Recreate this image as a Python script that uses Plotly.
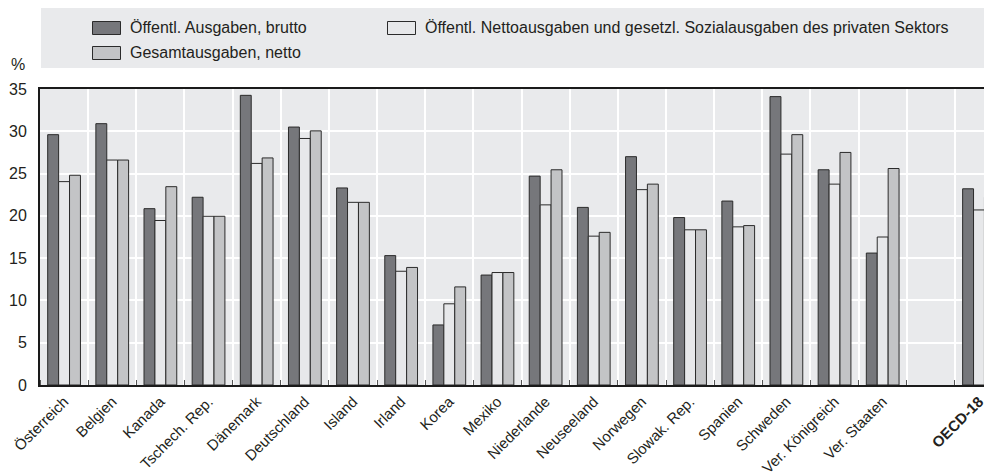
import plotly.graph_objects as go

categories = ["Österreich", "Belgien", "Kanada", "Tschech. Rep.", "Dänemark", "Deutschland",
              "Island", "Irland", "Korea", "Mexiko", "Niederlande", "Neuseeland", "Norwegen",
              "Slowak. Rep.", "Spanien", "Schweden", "Ver. Königreich", "Ver. Staaten", "", "OECD-18"]

brutto = [29.6, 30.9, 20.85, 22.2, 34.25, 30.5, 23.3, 15.3, 7.1, 13.0, 24.7, 21.0, 27.0,
          19.8, 21.75, 34.1, 25.45, 15.6, None, 23.2]
netto_privat = [24.05, 26.6, 19.45, 19.95, 26.2, 29.15, 21.6, 13.45, 9.6, 13.3, 21.3, 17.6, 23.1,
                18.35, 18.7, 27.3, 23.75, 17.5, None, 20.7]
gesamt_netto = [24.8, 26.6, 23.45, 19.95, 26.85, 30.05, 21.6, 13.9, 11.6, 13.3, 25.45, 18.05, 23.75,
                18.35, 18.85, 29.6, 27.5, 25.6, None, 22.2]

series_names = ["Öffentl. Ausgaben, brutto",
                "Öffentl. Nettoausgaben und gesetzl. Sozialausgaben des privaten Sektors",
                "Gesamtausgaben, netto"]
colors = ["#76777b", "#e7e8ea", "#c3c4c6"]

FONT = "Liberation Sans, Arial, sans-serif"
TXT = "#231f20"

xs = list(range(len(categories)))
ticktext = [("<b>%s</b>" % c if c == "OECD-18" else c) for c in categories]

fig = go.Figure()
for name, vals, col in zip(series_names, [brutto, netto_privat, gesamt_netto], colors):
    fig.add_trace(go.Bar(x=xs, y=vals, name=name, marker=dict(color=col, line=dict(color="#2b2b2b", width=1)),
                         showlegend=False))

# page body has an 8px margin: figure origin sits at screen (8, 8)
OFF = 8
FW, FH = 992 - OFF, 476 - OFF
L, T, W, H = 40 - OFF, 89 - OFF, 952, 296
def px(x):  # screen x -> paper
    return (x - OFF - L) / W
def py(y):  # screen y -> paper
    return (T + H - (y - OFF)) / H

shapes = [dict(type="rect", xref="paper", yref="paper", x0=px(41), x1=px(992), y0=py(68), y1=py(8),
               fillcolor="#e9eaec", line=dict(width=0), layer="below")]
legend_items = [(0, 92.5, 28), (1, 387.5, 28), (2, 92.5, 53)]
annotations = []
for idx, x0, yc in legend_items:
    shapes.append(dict(type="rect", xref="paper", yref="paper", x0=px(x0), x1=px(x0 + 28),
                       y0=py(yc + 6.5), y1=py(yc - 6.5), fillcolor=colors[idx],
                       line=dict(color="#2b2b2b", width=1)))
    annotations.append(dict(xref="paper", yref="paper", x=px(x0 + 35), y=py(yc), text=series_names[idx],
                            showarrow=False, xanchor="left", yanchor="middle",
                            font=dict(family=FONT, size=16, color=TXT)))
annotations.append(dict(xref="paper", yref="paper", x=px(18), y=py(64), text="%", showarrow=False,
                        xanchor="center", yanchor="middle", font=dict(family=FONT, size=16, color=TXT)))

fig.update_layout(
    template="none",
    width=FW, height=FH,
    margin=dict(l=L, r=FW - L - W, t=T, b=FH - T - H, autoexpand=False),
    paper_bgcolor="white", plot_bgcolor="#e9eaec",
    barmode="group", bargap=0.32, bargroupgap=0,
    font=dict(family=FONT, size=16, color=TXT),
    shapes=shapes, annotations=annotations,
    xaxis=dict(range=[-0.5, 19.27], tickmode="array", tickvals=xs, ticktext=ticktext,
               tickangle=-45, showgrid=False, ticks="", zeroline=False, automargin=False,
               showline=True, linecolor="#1a1a1a", linewidth=2, mirror=True,
               tickfont=dict(family=FONT, size=15, color=TXT),
               minor=dict(tickmode="linear", tick0=0.5, dtick=1, showgrid=True, gridcolor="white",
                          gridwidth=1.5, ticks="inside", ticklen=5, tickcolor="#555555", tickwidth=1)),
    yaxis=dict(range=[0, 35], tickmode="linear", tick0=0, dtick=5, showgrid=True, gridcolor="white",
               gridwidth=1.5, zeroline=False, showline=True, linecolor="#1a1a1a", linewidth=2,
               mirror=True, ticks="", automargin=False, ticklabelstandoff=8,
               tickfont=dict(family=FONT, size=16, color=TXT)),
)

fig.write_html("out.html")
